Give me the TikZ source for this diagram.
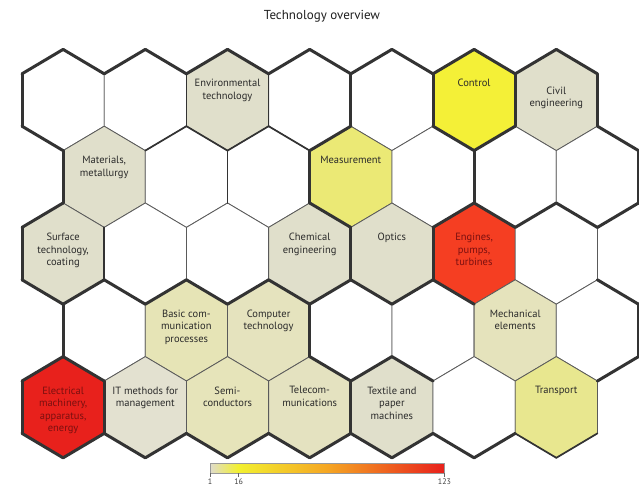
\documentclass[tikz,border=0pt]{standalone}
\usepackage{fontspec}
\setmainfont{PT Sans}
\usetikzlibrary{calc}
\definecolor{beige}{HTML}{E0DFCB}
\definecolor{itcol}{HTML}{E3E1D0}
\definecolor{controlcol}{HTML}{F4F037}
\definecolor{meascol}{HTML}{EBE975}
\definecolor{enginecol}{HTML}{F53E22}
\definecolor{eleccol}{HTML}{E8211C}
\definecolor{basiccol}{HTML}{E6E4B6}
\definecolor{compcol}{HTML}{E5E3BE}
\definecolor{semicol}{HTML}{E6E4BA}
\definecolor{telecol}{HTML}{E4E2C0}
\definecolor{mechcol}{HTML}{E5E3BC}
\definecolor{transcol}{HTML}{E8E78F}
\definecolor{edgethin}{HTML}{5A5A5A}
\definecolor{edgedark}{HTML}{333333}
\definecolor{labeltext}{HTML}{2A2A2A}
\definecolor{redtext}{HTML}{7A1010}
\definecolor{cbA}{HTML}{E0DCCB}
\definecolor{cbB}{HTML}{F2F030}
\definecolor{cbC}{HTML}{F5A623}
\definecolor{cbD}{HTML}{E8201C}
\pgfdeclarehorizontalshading{cbarshade}{100bp}{color(0bp)=(cbA); color(25bp)=(cbA); color(31bp)=(cbB); color(50bp)=(cbC); color(75bp)=(cbD); color(100bp)=(cbD)}
\tikzset{
  thinedge/.style={draw=edgethin, line width=0.8pt, line join=round},
  mededge/.style={draw=edgedark, line width=1.7pt, line cap=round},
  thkedge/.style={draw=edgedark, line width=3pt, line cap=round},
  hexlabel/.style={anchor=north, inner sep=0pt, align=center, font=\fontsize{10.5}{12.6}\selectfont, text=labeltext},
  redlabel/.style={hexlabel, text=redtext},
  ticklabel/.style={anchor=north, inner sep=0pt, font=\fontsize{8}{9}\selectfont, text=black!75},
}
\newcommand\hexcenter[2]{\pgfmathsetmacro\hcx{63.1+82.2*#2+41.1*mod(#1,2)}\pgfmathsetmacro\hcy{100+76.8*#1}}
\newcommand\hexcell[3]{%
  \hexcenter{#1}{#2}%
  \filldraw[fill=#3, thinedge] (\hcx,\hcy-50.6) -- (\hcx+41.1,\hcy-26.2) -- (\hcx+41.1,\hcy+26.2) -- (\hcx,\hcy+50.6) -- (\hcx-41.1,\hcy+26.2) -- (\hcx-41.1,\hcy-26.2) -- cycle;}
\newcommand\hexvert[1]{\ifcase#1 \def\hvx{0}\def\hvy{-50.6}\or\def\hvx{41.1}\def\hvy{-26.2}\or\def\hvx{41.1}\def\hvy{26.2}\or\def\hvx{0}\def\hvy{50.6}\or\def\hvx{-41.1}\def\hvy{26.2}\or\def\hvx{-41.1}\def\hvy{-26.2}\or\def\hvx{0}\def\hvy{-50.6}\fi}
\newcommand\hexedge[4]{%
  \hexcenter{#2}{#3}%
  \hexvert{#4}\let\hax\hvx\let\hay\hvy
  \hexvert{\numexpr#4+1\relax}\let\hbx\hvx\let\hby\hvy
  \draw[#1] (\hcx+\hax,\hcy+\hay) -- (\hcx+\hbx,\hcy+\hby);}
\newcommand\hexlab[4][hexlabel]{%
  \hexcenter{#2}{#3}%
  \node[#1] (lab-#2-#3) at (\hcx,\hcy-20.8) {#4};}
\begin{document}
\begin{tikzpicture}[x=1pt,y=-1pt]
\useasboundingbox (0,0) rectangle (639,490);
\fill[white] (0,0) rectangle (639,490);
% cells
\foreach \r/\c/\col in {0/0/white,0/1/white,0/2/beige,0/3/white,0/4/white,0/5/controlcol,0/6/beige,
  1/0/beige,1/1/white,1/2/white,1/3/meascol,1/4/white,1/5/white,1/6/white,
  2/0/beige,2/1/white,2/2/white,2/3/beige,2/4/beige,2/5/enginecol,2/6/white,
  3/0/white,3/1/basiccol,3/2/compcol,3/3/white,3/4/white,3/5/mechcol,3/6/white,
  4/0/eleccol,4/1/itcol,4/2/semicol,4/3/telecol,4/4/beige,4/5/white,4/6/transcol}
  {\hexcell{\r}{\c}{\col}}
% medium borders
\foreach \r/\c/\d in {0/1/1,0/2/1,0/1/2,0/2/3,0/2/2,2/0/1,4/6/3,4/6/2,1/1/1,0/3/3}
  {\hexedge{mededge}{\r}{\c}{\d}}
% thick borders
\foreach \c in {0,...,6} {\hexedge{thkedge}{0}{\c}{0}\hexedge{thkedge}{0}{\c}{5}}
\foreach \c in {0,...,5} {\hexedge{thkedge}{4}{\c}{3}\hexedge{thkedge}{4}{\c}{2}}
\foreach \r/\c/\d in {1/6/0,1/6/1,1/6/2,0/6/1,
  0/0/4,0/0/3,1/0/4,2/0/5,2/0/4,2/0/3,3/0/4,4/0/5,4/0/4,
  3/6/0,3/6/1,3/6/2,
  0/3/1,0/4/1,0/5/1,0/3/2,1/2/1,0/5/3,0/5/2,1/4/1,1/3/3,1/4/2,1/5/3,1/5/2,1/6/3,
  2/3/1,2/4/1,2/0/2,2/1/3,2/1/2,2/2/3,2/2/2,2/3/3,2/3/2,2/4/3,2/4/2,2/5/3,
  3/0/3,3/2/1,3/3/3,3/3/2,3/4/3,4/0/1,4/3/1}
  {\hexedge{thkedge}{\r}{\c}{\d}}
% labels
\hexlab{0}{2}{Environmental\\technology}
\hexlab{0}{5}{Control}
\hexcenter{0}{6}\node[hexlabel] (lab-0-6) at (\hcx,\hcy-13.5) {Civil\\engineering};
\hexlab{1}{0}{Materials,\\metallurgy}
\hexlab{1}{3}{Measurement}
\hexlab{2}{0}{Surface\\technology,\\coating}
\hexlab{2}{3}{Chemical\\engineering}
\hexlab{2}{4}{Optics}
\hexlab[redlabel]{2}{5}{Engines,\\pumps,\\turbines}
\hexlab{3}{1}{Basic com-\\munication\\processes}
\hexlab{3}{2}{Computer\\technology}
\hexlab{3}{5}{Mechanical\\elements}
\hexlab[redlabel]{4}{0}{Electrical\\machinery,\\apparatus,\\energy}
\hexlab{4}{1}{IT methods for\\management}
\hexlab{4}{2}{Semi-\\conductors}
\hexlab{4}{3}{Telecom-\\munications}
\hexlab{4}{4}{Textile and\\paper\\machines}
\hexlab{4}{6}{Transport}
% title
\node[font=\fontsize{13}{15}\selectfont, text=black!88, inner sep=0pt] (title) at (322,16) {Technology overview};
% colour bar
\node[shade, shading=cbarshade, draw=black!40, line width=0.5pt, minimum width=234pt, minimum height=9.5pt, inner sep=0pt, anchor=north west] (cbar) at (210,463.3) {};
\coordinate (t1) at (cbar.south west);
\coordinate (t16) at ($(cbar.south west)!0.122!(cbar.south east)$);
\coordinate (t123) at (cbar.south east);
\foreach \t in {t1,t16,t123} {\draw[black!60, line width=0.6pt] (\t) -- ++(0,4);}
\node[ticklabel] (l1) at ($(t1)+(0,5)$) {1};
\node[ticklabel] (l16) at ($(t16)+(0,5)$) {16};
\node[ticklabel] (l123) at ($(t123)+(0,5)$) {123};
\end{tikzpicture}
\end{document}
